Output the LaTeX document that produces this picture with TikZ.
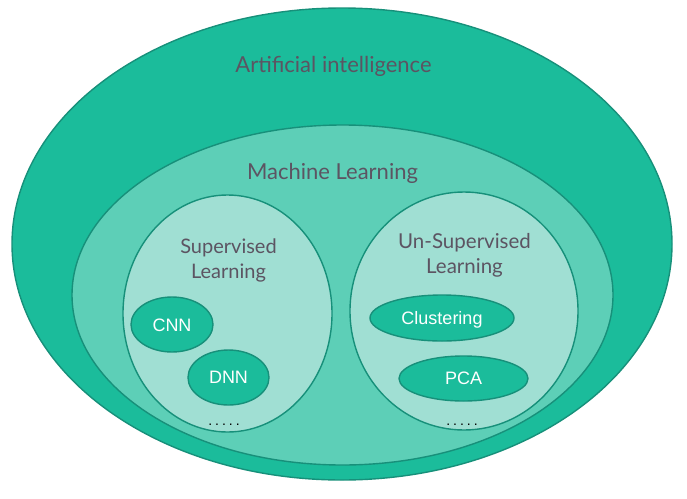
\documentclass[tikz,border=0pt]{standalone}
\usepackage{fontspec}
\setmainfont{Lato}
\newfontfamily\arialf{Liberation Sans}
\usetikzlibrary{shapes.geometric}
\definecolor{aiC}{HTML}{1BBC9B}
\definecolor{mlC}{HTML}{5DCFB7}
\definecolor{slC}{HTML}{A0DFD3}
\definecolor{edgeC}{HTML}{17907A}
\definecolor{txtC}{RGB}{92,84,98}
\tikzset{
  blob/.style={ellipse, draw=edgeC, line width=1.4pt, inner sep=0pt},
  lbl/.style={text=txtC, inner sep=0pt, anchor=base},
  leaf/.style={text=white, font=\arialf\fontsize{18}{20}\selectfont, inner sep=0pt, anchor=base},
  dots/.style={inner sep=0pt, anchor=base, text=black, font=\arialf\fontsize{14}{14}\selectfont},
}
\newcommand{\fivedots}{.\kern3pt.\kern3pt.\kern3pt.\kern3pt.}
\begin{document}
\begin{tikzpicture}[x=1pt,y=-1pt]
\useasboundingbox (0,0) rectangle (687,498);
\node[blob, fill=aiC, minimum width=660pt, minimum height=472pt] (ai) at (342,244) {};
\node[blob, fill=mlC, minimum width=541pt, minimum height=340pt] (ml) at (342.5,295) {};
\node[blob, fill=slC, minimum width=209pt, minimum height=237pt] (sl) at (227.5,313.5) {};
\node[blob, fill=slC, minimum width=228pt, minimum height=238pt] (ul) at (464,311) {};
\node[blob, fill=aiC, minimum width=82pt, minimum height=55pt] (cnn) at (172,324.5) {};
\node[blob, fill=aiC, minimum width=81pt, minimum height=55pt] (dnn) at (228.5,377.5) {};
\node[blob, fill=aiC, minimum width=144pt, minimum height=46pt] (clu) at (442,318) {};
\node[blob, fill=aiC, minimum width=129pt, minimum height=45pt] (pca) at (463.5,378.5) {};
\node[lbl, font=\fontsize{22}{24}\selectfont] (tai) at (333.5,72) {Artificial intelligence};
\node[lbl, font=\fontsize{22}{24}\selectfont] (tml) at (332.5,179) {Machine Learning};
\node[lbl, font=\fontsize{20}{24}\selectfont] (tsl1) at (228.5,253) {Supervised};
\node[lbl, font=\fontsize{20}{24}\selectfont] (tsl2) at (228.5,278.3) {Learning};
\node[lbl, font=\fontsize{20.5}{24}\selectfont] (tul1) at (464.5,248.3) {Un-Supervised};
\node[lbl, font=\fontsize{20.5}{24}\selectfont] (tul2) at (464.5,273.3) {Learning};
\node[leaf] (tcnn) at (172,331) {CNN};
\node[leaf] (tdnn) at (228.5,383.3) {DNN};
\node[leaf] (tclu) at (442,324.3) {Clustering};
\node[leaf] (tpca) at (463.5,384) {PCA};
\node[dots] (d1) at (224,425) {\fivedots};
\node[dots] (d2) at (462,425) {\fivedots};
\end{tikzpicture}
\end{document}
